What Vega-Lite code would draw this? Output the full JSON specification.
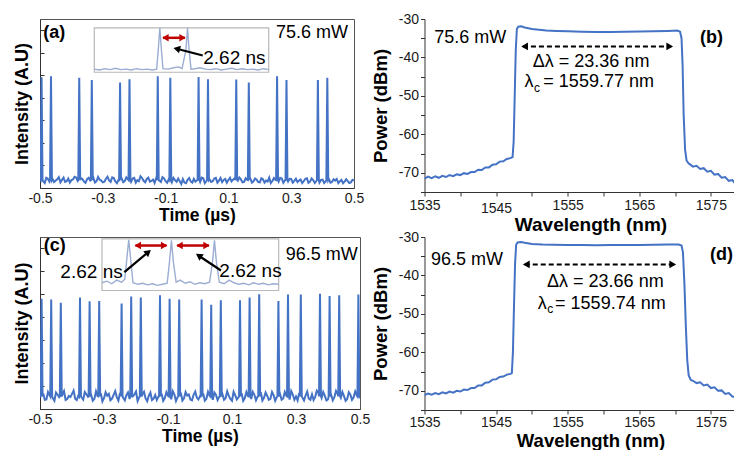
{
"$schema": "https://vega.github.io/schema/vega-lite/v6.json",
"background": "white",
"padding": {"left": 13, "top": 12, "right": 0, "bottom": 0},
"columns": 2,
"bounds": "flush",
"spacing": {"row": 45, "column": 64.5},
"config": {
  "font": "Liberation Sans",
  "view": {"stroke": "#555", "strokeWidth": 1},
  "axis": {"grid": false, "labelFontSize": 14, "labelColor": "#1a1a1a", "titleColor": "#000", "domainColor": "#333", "tickColor": "#333", "titleFontWeight": "bold", "labelOverlap": false, "labelFlush": false},
  "text": {"fontSize": 18, "color": "#000"},
  "line": {"color": "#4472C4"}
},
"datasets": {
  "aTrace": [
    {"x":-0.50,"y":0.38},{"x":-0.49,"y":0.30},{"x":-0.48,"y":0.45},{"x":-0.47,"y":0.28},{"x":-0.46,"y":0.40},{"x":-0.45,"y":0.33},{"x":-0.44,"y":0.48},{"x":-0.43,"y":0.36},{"x":-0.42,"y":0.27},{"x":-0.41,"y":0.42},
    {"x":-0.40,"y":0.35},{"x":-0.39,"y":0.50},{"x":-0.38,"y":0.31},{"x":-0.37,"y":0.44},{"x":-0.36,"y":0.29},{"x":-0.35,"y":0.39},{"x":-0.34,"y":0.33},{"x":-0.33,"y":0.46},{"x":-0.32,"y":0.30},{"x":-0.31,"y":0.37},
    {"x":-0.30,"y":0.25},{"x":-0.29,"y":0.41},{"x":-0.28,"y":0.34},{"x":-0.27,"y":0.47},{"x":-0.26,"y":0.29},{"x":-0.25,"y":0.36},{"x":-0.24,"y":0.43},{"x":-0.23,"y":0.31},{"x":-0.22,"y":0.38},{"x":-0.21,"y":0.27},
    {"x":-0.20,"y":0.45},{"x":-0.19,"y":0.35},{"x":-0.18,"y":0.52},{"x":-0.17,"y":0.32},{"x":-0.16,"y":0.40},{"x":-0.15,"y":0.28},{"x":-0.14,"y":0.37},{"x":-0.13,"y":0.44},{"x":-0.12,"y":0.33},{"x":-0.11,"y":0.48},
    {"x":-0.10,"y":0.30},{"x":-0.09,"y":0.39},{"x":-0.08,"y":0.26},{"x":-0.07,"y":0.35},{"x":-0.06,"y":0.42},{"x":-0.05,"y":0.18},{"x":-0.04,"y":0.24},{"x":-0.03,"y":0.36},{"x":-0.02,"y":0.29},{"x":-0.01,"y":0.41},
    {"x":0.00,"y":0.34},{"x":0.01,"y":0.27},{"x":0.02,"y":0.43},{"x":0.03,"y":0.31},{"x":0.04,"y":0.38},{"x":0.05,"y":0.30},{"x":0.06,"y":0.45},{"x":0.07,"y":0.33},{"x":0.08,"y":0.26},{"x":0.09,"y":0.40},
    {"x":0.10,"y":0.35},{"x":0.11,"y":0.29},{"x":0.12,"y":0.44},{"x":0.13,"y":0.32},{"x":0.14,"y":0.38},{"x":0.15,"y":0.27},{"x":0.16,"y":0.36},{"x":0.17,"y":0.41},{"x":0.18,"y":0.30},{"x":0.19,"y":0.37},
    {"x":0.20,"y":0.25},{"x":0.21,"y":0.39},{"x":0.22,"y":0.33},{"x":0.23,"y":0.46},{"x":0.24,"y":0.31},{"x":0.25,"y":0.36},{"x":0.26,"y":0.28},{"x":0.27,"y":0.42},{"x":0.28,"y":0.34},{"x":0.29,"y":0.29},
    {"x":0.30,"y":0.40},{"x":0.31,"y":0.32},{"x":0.32,"y":0.26},{"x":0.33,"y":0.38},{"x":0.34,"y":0.30},{"x":0.35,"y":0.43},{"x":0.36,"y":0.28},{"x":0.37,"y":0.35},{"x":0.38,"y":0.31},{"x":0.39,"y":0.24},
    {"x":0.40,"y":0.37},{"x":0.41,"y":0.29},{"x":0.42,"y":0.40},{"x":0.43,"y":0.27},{"x":0.44,"y":0.33},{"x":0.45,"y":0.22},{"x":0.46,"y":0.36},{"x":0.47,"y":0.28},{"x":0.48,"y":0.31},{"x":0.49,"y":0.25},{"x":0.50,"y":0.34},
    {"x":-0.485,"y":0.22},{"x":-0.475,"y":0.41},{"x":-0.455,"y":0.26},{"x":-0.445,"y":0.39},{"x":-0.435,"y":0.25},{"x":-0.425,"y":0.46},{"x":-0.415,"y":0.30},{"x":-0.405,"y":0.24},{"x":-0.395,"y":0.38},{"x":-0.385,"y":0.47},
    {"x":-0.365,"y":0.40},{"x":-0.355,"y":0.23},{"x":-0.345,"y":0.45},{"x":-0.325,"y":0.24},{"x":-0.315,"y":0.49},{"x":-0.305,"y":0.33},{"x":-0.295,"y":0.28},{"x":-0.285,"y":0.50},{"x":-0.275,"y":0.27},{"x":-0.265,"y":0.44},
    {"x":-0.255,"y":0.21},{"x":-0.235,"y":0.26},{"x":-0.225,"y":0.47},{"x":-0.205,"y":0.42},{"x":-0.195,"y":0.24},{"x":-0.185,"y":0.30},{"x":-0.175,"y":0.44},{"x":-0.165,"y":0.25},{"x":-0.155,"y":0.46},{"x":-0.145,"y":0.31},
    {"x":-0.135,"y":0.22},{"x":-0.115,"y":0.27},{"x":-0.105,"y":0.43},{"x":-0.095,"y":0.23},{"x":-0.075,"y":0.45},{"x":-0.065,"y":0.28},{"x":-0.055,"y":0.30},{"x":-0.045,"y":0.40},{"x":-0.035,"y":0.21},{"x":-0.025,"y":0.44},
    {"x":-0.015,"y":0.24},{"x":-0.005,"y":0.28},{"x":0.015,"y":0.46},{"x":0.025,"y":0.22},{"x":0.045,"y":0.27},{"x":0.055,"y":0.42},{"x":0.065,"y":0.24},{"x":0.075,"y":0.44},{"x":0.085,"y":0.36},{"x":0.095,"y":0.23},
    {"x":0.105,"y":0.45},{"x":0.115,"y":0.37},{"x":0.135,"y":0.46},{"x":0.145,"y":0.25},{"x":0.155,"y":0.43},{"x":0.175,"y":0.24},{"x":0.185,"y":0.42},{"x":0.195,"y":0.26},{"x":0.205,"y":0.43},{"x":0.215,"y":0.24},
    {"x":0.225,"y":0.29},{"x":0.235,"y":0.22},{"x":0.245,"y":0.44},{"x":0.265,"y":0.45},{"x":0.275,"y":0.23},{"x":0.295,"y":0.41},{"x":0.305,"y":0.24},{"x":0.315,"y":0.41},{"x":0.325,"y":0.33},{"x":0.335,"y":0.22},
    {"x":0.345,"y":0.41},{"x":0.355,"y":0.23},{"x":0.365,"y":0.42},{"x":0.375,"y":0.22},{"x":0.395,"y":0.36},{"x":0.405,"y":0.22},{"x":0.425,"y":0.24},{"x":0.435,"y":0.39},{"x":0.445,"y":0.40},{"x":0.455,"y":0.30},
    {"x":0.465,"y":0.21},{"x":0.475,"y":0.39},{"x":0.485,"y":0.22},{"x":0.495,"y":0.36},
    {"x":-0.498,"y":0.35},{"x":-0.495,"y":4.91},{"x":-0.492,"y":0.35},
    {"x":-0.468,"y":0.35},{"x":-0.465,"y":4.96},{"x":-0.462,"y":0.35},
    {"x":-0.378,"y":0.35},{"x":-0.375,"y":4.89},{"x":-0.372,"y":0.35},
    {"x":-0.338,"y":0.35},{"x":-0.335,"y":4.79},{"x":-0.332,"y":0.35},
    {"x":-0.248,"y":0.35},{"x":-0.245,"y":4.68},{"x":-0.242,"y":0.35},
    {"x":-0.218,"y":0.35},{"x":-0.215,"y":4.83},{"x":-0.212,"y":0.35},
    {"x":-0.128,"y":0.35},{"x":-0.125,"y":4.96},{"x":-0.122,"y":0.35},
    {"x":-0.088,"y":0.35},{"x":-0.085,"y":4.89},{"x":-0.082,"y":0.35},
    {"x":0.002,"y":0.35},{"x":0.005,"y":4.93},{"x":0.008,"y":0.35},
    {"x":0.032,"y":0.35},{"x":0.035,"y":4.83},{"x":0.038,"y":0.35},
    {"x":0.122,"y":0.35},{"x":0.125,"y":4.82},{"x":0.128,"y":0.35},
    {"x":0.162,"y":0.35},{"x":0.165,"y":4.68},{"x":0.168,"y":0.35},
    {"x":0.252,"y":0.35},{"x":0.255,"y":4.96},{"x":0.258,"y":0.35},
    {"x":0.282,"y":0.35},{"x":0.285,"y":4.79},{"x":0.288,"y":0.35},
    {"x":0.382,"y":0.35},{"x":0.385,"y":4.79},{"x":0.388,"y":0.35},
    {"x":0.412,"y":0.35},{"x":0.415,"y":4.89},{"x":0.418,"y":0.35}
  ],
  "cTrace": [
    {"x":-0.50,"y":0.55},{"x":-0.49,"y":0.68},{"x":-0.48,"y":0.42},{"x":-0.47,"y":0.60},{"x":-0.46,"y":0.48},{"x":-0.45,"y":0.72},{"x":-0.44,"y":0.51},{"x":-0.43,"y":0.63},{"x":-0.42,"y":0.40},{"x":-0.41,"y":0.57},
    {"x":-0.40,"y":0.66},{"x":-0.39,"y":0.45},{"x":-0.38,"y":0.59},{"x":-0.37,"y":0.50},{"x":-0.36,"y":0.74},{"x":-0.35,"y":0.53},{"x":-0.34,"y":0.61},{"x":-0.33,"y":0.44},{"x":-0.32,"y":0.56},{"x":-0.31,"y":0.69},
    {"x":-0.30,"y":0.47},{"x":-0.29,"y":0.58},{"x":-0.28,"y":0.38},{"x":-0.27,"y":0.62},{"x":-0.26,"y":0.52},{"x":-0.25,"y":0.70},{"x":-0.24,"y":0.49},{"x":-0.23,"y":0.60},{"x":-0.22,"y":0.43},{"x":-0.21,"y":0.55},
    {"x":-0.20,"y":0.76},{"x":-0.19,"y":0.51},{"x":-0.18,"y":0.64},{"x":-0.17,"y":0.46},{"x":-0.16,"y":0.58},{"x":-0.15,"y":0.39},{"x":-0.14,"y":0.61},{"x":-0.13,"y":0.54},{"x":-0.12,"y":0.67},{"x":-0.11,"y":0.48},
    {"x":-0.10,"y":0.57},{"x":-0.09,"y":0.42},{"x":-0.08,"y":0.63},{"x":-0.07,"y":0.52},{"x":-0.06,"y":0.71},{"x":-0.05,"y":0.47},{"x":-0.04,"y":0.59},{"x":-0.03,"y":0.41},{"x":-0.02,"y":0.62},{"x":-0.01,"y":0.50},
    {"x":0.00,"y":0.56},{"x":0.01,"y":0.68},{"x":0.02,"y":0.45},{"x":0.03,"y":0.58},{"x":0.04,"y":0.40},{"x":0.05,"y":0.61},{"x":0.06,"y":0.53},{"x":0.07,"y":0.66},{"x":0.08,"y":0.47},{"x":0.09,"y":0.57},
    {"x":0.10,"y":0.36},{"x":0.11,"y":0.60},{"x":0.12,"y":0.51},{"x":0.13,"y":0.69},{"x":0.14,"y":0.48},{"x":0.15,"y":0.56},{"x":0.16,"y":0.43},{"x":0.17,"y":0.62},{"x":0.18,"y":0.54},{"x":0.19,"y":0.73},
    {"x":0.20,"y":0.49},{"x":0.21,"y":0.58},{"x":0.22,"y":0.44},{"x":0.23,"y":0.60},{"x":0.24,"y":0.52},{"x":0.25,"y":0.66},{"x":0.26,"y":0.46},{"x":0.27,"y":0.57},{"x":0.28,"y":0.41},{"x":0.29,"y":0.63},
    {"x":0.30,"y":0.55},{"x":0.31,"y":0.70},{"x":0.32,"y":0.50},{"x":0.33,"y":0.59},{"x":0.34,"y":0.45},{"x":0.35,"y":0.64},{"x":0.36,"y":0.53},{"x":0.37,"y":0.71},{"x":0.38,"y":0.48},{"x":0.39,"y":0.58},
    {"x":0.40,"y":0.42},{"x":0.41,"y":0.61},{"x":0.42,"y":0.52},{"x":0.43,"y":0.67},{"x":0.44,"y":0.49},{"x":0.45,"y":0.56},{"x":0.46,"y":0.44},{"x":0.47,"y":0.62},{"x":0.48,"y":0.51},{"x":0.49,"y":0.59},{"x":0.50,"y":0.47},
    {"x":-0.485,"y":0.40},{"x":-0.475,"y":0.74},{"x":-0.455,"y":0.36},{"x":-0.445,"y":0.62},{"x":-0.425,"y":0.78},{"x":-0.415,"y":0.44},{"x":-0.405,"y":0.52},{"x":-0.395,"y":0.80},{"x":-0.385,"y":0.39},{"x":-0.365,"y":0.41},
    {"x":-0.355,"y":0.64},{"x":-0.335,"y":0.36},{"x":-0.325,"y":0.77},{"x":-0.305,"y":0.33},{"x":-0.295,"y":0.73},{"x":-0.285,"y":0.66},{"x":-0.275,"y":0.45},{"x":-0.265,"y":0.78},{"x":-0.255,"y":0.37},{"x":-0.235,"y":0.38},
    {"x":-0.225,"y":0.72},{"x":-0.205,"y":0.63},{"x":-0.195,"y":0.35},{"x":-0.175,"y":0.75},{"x":-0.165,"y":0.34},{"x":-0.155,"y":0.72},{"x":-0.145,"y":0.45},{"x":-0.135,"y":0.39},{"x":-0.115,"y":0.36},{"x":-0.105,"y":0.73},
    {"x":-0.085,"y":0.78},{"x":-0.075,"y":0.35},{"x":-0.055,"y":0.37},{"x":-0.045,"y":0.74},{"x":-0.035,"y":0.63},{"x":-0.025,"y":0.38},{"x":-0.015,"y":0.76},{"x":-0.005,"y":0.42},{"x":0.015,"y":0.37},{"x":0.025,"y":0.75},
    {"x":0.045,"y":0.72},{"x":0.055,"y":0.39},{"x":0.075,"y":0.40},{"x":0.085,"y":0.77},{"x":0.095,"y":0.44},{"x":0.105,"y":0.75},{"x":0.115,"y":0.42},{"x":0.135,"y":0.36},{"x":0.145,"y":0.74},{"x":0.165,"y":0.75},
    {"x":0.175,"y":0.38},{"x":0.195,"y":0.37},{"x":0.205,"y":0.72},{"x":0.215,"y":0.40},{"x":0.225,"y":0.74},{"x":0.235,"y":0.36},{"x":0.255,"y":0.40},{"x":0.265,"y":0.74},{"x":0.285,"y":0.78},{"x":0.295,"y":0.40},
    {"x":0.305,"y":0.38},{"x":0.325,"y":0.37},{"x":0.335,"y":0.76},{"x":0.345,"y":0.40},{"x":0.355,"y":0.39},{"x":0.365,"y":0.80},{"x":0.385,"y":0.74},{"x":0.395,"y":0.37},{"x":0.415,"y":0.38},{"x":0.425,"y":0.79},
    {"x":0.445,"y":0.74},{"x":0.455,"y":0.36},{"x":0.465,"y":0.73},{"x":0.475,"y":0.40},{"x":0.485,"y":0.77},
    {"x":-0.498,"y":0.55},{"x":-0.495,"y":4.81},{"x":-0.492,"y":0.55},
    {"x":-0.468,"y":0.55},{"x":-0.465,"y":4.77},{"x":-0.462,"y":0.55},
    {"x":-0.438,"y":0.55},{"x":-0.435,"y":4.63},{"x":-0.432,"y":0.55},
    {"x":-0.378,"y":0.55},{"x":-0.375,"y":4.86},{"x":-0.372,"y":0.55},
    {"x":-0.348,"y":0.55},{"x":-0.345,"y":4.70},{"x":-0.342,"y":0.55},
    {"x":-0.318,"y":0.55},{"x":-0.315,"y":4.71},{"x":-0.312,"y":0.55},
    {"x":-0.248,"y":0.55},{"x":-0.245,"y":4.60},{"x":-0.242,"y":0.55},
    {"x":-0.218,"y":0.55},{"x":-0.215,"y":4.91},{"x":-0.212,"y":0.55},
    {"x":-0.188,"y":0.55},{"x":-0.185,"y":4.86},{"x":-0.182,"y":0.55},
    {"x":-0.128,"y":0.55},{"x":-0.125,"y":4.96},{"x":-0.122,"y":0.55},
    {"x":-0.098,"y":0.55},{"x":-0.095,"y":4.81},{"x":-0.092,"y":0.55},
    {"x":-0.068,"y":0.55},{"x":-0.065,"y":4.77},{"x":-0.062,"y":0.55},
    {"x":0.002,"y":0.55},{"x":0.005,"y":4.77},{"x":0.008,"y":0.55},
    {"x":0.032,"y":0.55},{"x":0.035,"y":4.55},{"x":0.038,"y":0.55},
    {"x":0.062,"y":0.55},{"x":0.065,"y":4.74},{"x":0.068,"y":0.55},
    {"x":0.122,"y":0.55},{"x":0.125,"y":4.74},{"x":0.128,"y":0.55},
    {"x":0.152,"y":0.55},{"x":0.155,"y":4.86},{"x":0.158,"y":0.55},
    {"x":0.182,"y":0.55},{"x":0.185,"y":5.00},{"x":0.188,"y":0.55},
    {"x":0.242,"y":0.55},{"x":0.245,"y":4.71},{"x":0.248,"y":0.55},
    {"x":0.272,"y":0.55},{"x":0.275,"y":4.99},{"x":0.278,"y":0.55},
    {"x":0.312,"y":0.55},{"x":0.315,"y":4.99},{"x":0.318,"y":0.55},
    {"x":0.372,"y":0.55},{"x":0.375,"y":5.03},{"x":0.378,"y":0.55},
    {"x":0.402,"y":0.55},{"x":0.405,"y":4.93},{"x":0.408,"y":0.55},
    {"x":0.432,"y":0.55},{"x":0.435,"y":4.96},{"x":0.438,"y":0.55},
    {"x":0.492,"y":0.55},{"x":0.495,"y":4.99},{"x":0.498,"y":0.55}
  ],
  "aInset": [
    {"x":0,"y":0.07},{"x":0.5,"y":0.05},{"x":1,"y":0.08},{"x":1.5,"y":0.06},{"x":2,"y":0.09},{"x":2.5,"y":0.06},{"x":3,"y":0.07},{"x":3.5,"y":0.05},{"x":4,"y":0.08},{"x":4.5,"y":0.06},
    {"x":5,"y":0.07},{"x":5.5,"y":0.05},{"x":5.9,"y":0.07},{"x":6.05,"y":0.5},{"x":6.2,"y":1.0},{"x":6.35,"y":0.5},{"x":6.5,"y":0.08},{"x":7,"y":0.07},{"x":7.5,"y":0.10},{"x":8,"y":0.12},
    {"x":8.3,"y":0.08},{"x":8.67,"y":0.5},{"x":8.82,"y":1.0},{"x":8.97,"y":0.5},{"x":9.15,"y":0.07},{"x":9.5,"y":0.08},{"x":10,"y":0.10},{"x":10.5,"y":0.07},{"x":11,"y":0.06},{"x":11.5,"y":0.08},
    {"x":12,"y":0.05},{"x":12.5,"y":0.07},{"x":13,"y":0.09},{"x":13.5,"y":0.06},{"x":14,"y":0.08},{"x":14.5,"y":0.06},{"x":15,"y":0.07},{"x":15.5,"y":0.05},{"x":16,"y":0.08},{"x":16.5,"y":0.06}
  ],
  "cInset": [
    {"x":0,"y":0.15},{"x":0.3,"y":0.18},{"x":0.6,"y":0.13},{"x":0.9,"y":0.2},{"x":1.2,"y":0.16},{"x":1.4,"y":0.22},{"x":1.52,"y":0.6},{"x":1.64,"y":0.98},{"x":1.76,"y":0.6},{"x":1.9,"y":0.15},
    {"x":2.2,"y":0.12},{"x":2.5,"y":0.14},{"x":2.8,"y":0.11},{"x":3.1,"y":0.13},{"x":3.4,"y":0.1},{"x":3.7,"y":0.12},{"x":4.0,"y":0.14},{"x":4.14,"y":0.55},{"x":4.26,"y":0.97},{"x":4.38,"y":0.55},
    {"x":4.55,"y":0.16},{"x":4.8,"y":0.2},{"x":5.1,"y":0.14},{"x":5.4,"y":0.17},{"x":5.7,"y":0.12},{"x":6.0,"y":0.15},{"x":6.3,"y":0.13},{"x":6.6,"y":0.16},{"x":6.78,"y":0.55},{"x":6.9,"y":0.97},
    {"x":7.02,"y":0.55},{"x":7.2,"y":0.16},{"x":7.5,"y":0.13},{"x":7.8,"y":0.2},{"x":8.1,"y":0.15},{"x":8.4,"y":0.12},{"x":8.7,"y":0.14},{"x":9.0,"y":0.11},{"x":9.3,"y":0.15},{"x":9.6,"y":0.12},
    {"x":9.9,"y":0.14},{"x":10.2,"y":0.11},{"x":10.5,"y":0.13},{"x":10.84,"y":0.12}
  ],
  "bSpec": [
    {"x":1535.0,"y":-71.5},{"x":1535.5,"y":-71.0},{"x":1536.0,"y":-71.4},{"x":1536.5,"y":-70.9},{"x":1537.0,"y":-71.3},{"x":1537.5,"y":-70.8},{"x":1538.0,"y":-71.1},{"x":1538.5,"y":-70.6},{"x":1539.0,"y":-70.9},{"x":1539.5,"y":-70.4},
    {"x":1540.0,"y":-70.6},{"x":1540.5,"y":-70.1},{"x":1541.0,"y":-70.3},{"x":1541.5,"y":-69.8},{"x":1542.0,"y":-69.8},{"x":1542.5,"y":-69.2},{"x":1543.0,"y":-69.3},{"x":1543.5,"y":-68.6},{"x":1544.0,"y":-68.6},{"x":1544.5,"y":-67.9},
    {"x":1545.0,"y":-67.8},{"x":1545.5,"y":-67.1},{"x":1546.0,"y":-67.0},{"x":1546.5,"y":-66.4},{"x":1547.0,"y":-66.2},{"x":1547.3,"y":-65.9},
    {"x":1547.45,"y":-62},{"x":1547.6,"y":-50},{"x":1547.75,"y":-38},{"x":1547.9,"y":-32.6},{"x":1548.1,"y":-32.0},{"x":1548.5,"y":-31.9},{"x":1549.0,"y":-32.2},{"x":1550.0,"y":-32.6},{"x":1551.0,"y":-32.8},{"x":1552.0,"y":-33.0},
    {"x":1553.5,"y":-33.1},{"x":1555,"y":-33.2},{"x":1557,"y":-33.3},{"x":1559,"y":-33.35},{"x":1561,"y":-33.35},{"x":1563,"y":-33.3},{"x":1565,"y":-33.25},{"x":1567,"y":-33.2},{"x":1569,"y":-33.1},{"x":1570.3,"y":-33.0},
    {"x":1570.7,"y":-33.3},{"x":1570.9,"y":-35},{"x":1571.05,"y":-42},{"x":1571.2,"y":-55},{"x":1571.4,"y":-64},{"x":1571.6,"y":-66.8},{"x":1571.9,"y":-67.6},
    {"x":1572.0,"y":-67.7},{"x":1572.5,"y":-68.4},{"x":1573.0,"y":-68.2},{"x":1573.5,"y":-69.0},{"x":1574.0,"y":-68.8},{"x":1574.5,"y":-69.7},{"x":1575.0,"y":-69.5},{"x":1575.5,"y":-70.5},{"x":1576.0,"y":-70.3},{"x":1576.5,"y":-71.3},
    {"x":1577.0,"y":-71.1},{"x":1577.5,"y":-72.1},{"x":1578.0,"y":-71.9},{"x":1578.3,"y":-72.6}
  ],
  "dSpec": [
    {"x":1535.0,"y":-71.1},{"x":1535.5,"y":-70.7},{"x":1536.0,"y":-71.0},{"x":1536.5,"y":-70.6},{"x":1537.0,"y":-70.9},{"x":1537.5,"y":-70.4},{"x":1538.0,"y":-70.7},{"x":1538.5,"y":-70.2},{"x":1539.0,"y":-70.5},{"x":1539.5,"y":-70.0},
    {"x":1540.0,"y":-70.2},{"x":1540.5,"y":-69.7},{"x":1541.0,"y":-69.8},{"x":1541.5,"y":-69.3},{"x":1542.0,"y":-69.3},{"x":1542.5,"y":-68.6},{"x":1543.0,"y":-68.6},{"x":1543.5,"y":-67.9},{"x":1544.0,"y":-67.8},{"x":1544.5,"y":-67.1},
    {"x":1545.0,"y":-67.0},{"x":1545.5,"y":-66.4},{"x":1546.0,"y":-66.3},{"x":1546.5,"y":-65.8},{"x":1547.0,"y":-65.6},{"x":1547.2,"y":-65.4},
    {"x":1547.35,"y":-60},{"x":1547.5,"y":-48},{"x":1547.65,"y":-37},{"x":1547.8,"y":-32},{"x":1548.0,"y":-31.4},{"x":1548.5,"y":-31.3},{"x":1549.0,"y":-31.5},{"x":1550.0,"y":-31.8},{"x":1551.5,"y":-31.95},{"x":1553,"y":-32.0},
    {"x":1555,"y":-32.05},{"x":1557,"y":-32.1},{"x":1559,"y":-32.15},{"x":1561,"y":-32.1},{"x":1563,"y":-32.1},{"x":1565,"y":-32.05},{"x":1567,"y":-32.0},{"x":1569,"y":-31.95},{"x":1570.5,"y":-31.95},{"x":1570.9,"y":-32.2},
    {"x":1571.1,"y":-34},{"x":1571.3,"y":-42},{"x":1571.5,"y":-53},{"x":1571.7,"y":-62},{"x":1571.9,"y":-66},{"x":1572.2,"y":-67.2},
    {"x":1572.5,"y":-67.4},{"x":1573.0,"y":-68.0},{"x":1573.5,"y":-67.8},{"x":1574.0,"y":-68.6},{"x":1574.5,"y":-68.4},{"x":1575.0,"y":-69.3},{"x":1575.5,"y":-69.1},{"x":1576.0,"y":-70.0},{"x":1576.5,"y":-69.9},{"x":1577.0,"y":-70.8},
    {"x":1577.5,"y":-70.6},{"x":1578.0,"y":-71.5},{"x":1578.3,"y":-71.6}
  ]
},
"concat": [
  {
    "width": 314, "height": 169,
    "resolve": {"scale": {"x": "independent", "y": "independent"}},
    "layer": [
      {
        "encoding": {
          "x": {"field": "x", "type": "quantitative", "scale": {"domain": [-0.5, 0.5], "nice": false, "zero": false},
                "axis": {"title": "Time (µs)", "values": [-0.5,-0.3,-0.1,0.1,0.3,0.5], "labelExpr": "datum.value < 0 ? '-' + format(-datum.value, '.1f') : format(datum.value, '.1f')", "ticks": false, "labelPadding": 3, "titleFontSize": 17.5, "titlePadding": 1.5}},
          "y": {"field": "y", "type": "quantitative", "scale": {"domain": [0, 7.5], "nice": false, "zero": false},
                "axis": {"title": "Intensity (A.U)", "values": [0,1,2,3,4,5,6,7], "labels": false, "tickSize": -4, "titleFontSize": 18, "titlePadding": 8}}
        },
        "layer": [
          {"data": {"name": "aTrace"}, "mark": {"type": "line", "strokeWidth": 2, "clip": true}},
          {"data": {"values": [{"x": -0.49, "y": 6.86, "label": "(a)"}]}, "mark": {"type": "text", "align": "left", "baseline": "middle", "fontWeight": "bold", "fontSize": 18}, "encoding": {"text": {"field": "label"}}},
          {"data": {"values": [{"x": 0.481, "y": 6.86, "label": "75.6 mW"}]}, "mark": {"type": "text", "align": "right", "baseline": "middle", "fontSize": 18}, "encoding": {"text": {"field": "label"}}}
        ]
      },
      {
        "encoding": {
          "x": {"field": "x", "type": "quantitative", "scale": {"domain": [-5.137, 24.57], "nice": false, "zero": false}, "axis": null},
          "y": {"field": "y", "type": "quantitative", "scale": {"domain": [-2.604, 1.198], "nice": false, "zero": false}, "axis": null}
        },
        "layer": [
          {"data": {"values": [{"x": 0, "x2": 16.5, "y": 0, "y2": 1}]}, "mark": {"type": "rect", "fill": "white", "stroke": "#b8b8b8", "strokeWidth": 1.2}, "encoding": {"x2": {"field": "x2"}, "y2": {"field": "y2"}}},
          {"data": {"name": "aInset"}, "mark": {"type": "line", "color": "#9badd2", "strokeWidth": 1.4}},
          {"data": {"values": [{"x": 6.5, "y": 0.775}, {"x": 8.58, "y": 0.775}]}, "mark": {"type": "line", "color": "#c00000", "strokeWidth": 2.5}},
          {"data": {"values": [{"x": 6.73, "y": 0.775}]}, "mark": {"type": "point", "shape": "triangle-left", "filled": true, "color": "#c00000", "size": 55, "opacity": 1}},
          {"data": {"values": [{"x": 8.35, "y": 0.775}]}, "mark": {"type": "point", "shape": "triangle-right", "filled": true, "color": "#c00000", "size": 55, "opacity": 1}},
          {"data": {"values": [{"x": 10.26, "y": 0.376}, {"x": 7.8, "y": 0.529}]}, "mark": {"type": "line", "color": "#000", "strokeWidth": 2.2}},
          {"data": {"values": [{"x": 7.8, "y": 0.529}]}, "mark": {"type": "point", "shape": "triangle-up", "angle": 284.7, "filled": true, "color": "#000", "size": 60, "opacity": 1}},
          {"data": {"values": [{"x": 10.31, "y": 0.324, "label": "2.62 ns"}]}, "mark": {"type": "text", "align": "left", "baseline": "middle", "fontSize": 19}, "encoding": {"text": {"field": "label"}}}
        ]
      }
    ]
  },
  {
    "width": 310, "height": 173,
    "view": {"stroke": null},
    "encoding": {
      "x": {"field": "x", "type": "quantitative", "scale": {"domain": [1535, 1578.3], "nice": false, "zero": false},
            "axis": {"title": "Wavelength (nm)", "values": [1535,1540,1545,1550,1555,1560,1565,1570,1575], "labelExpr": "datum.value % 10 == 5 ? format(datum.value, 'd') : ''", "tickSize": 4, "labelPadding": {"condition": {"test": "datum.value == 1545", "value": 5}, "value": 2}, "titleFontSize": 19, "titlePadding": 0, "titleX": 166}},
      "y": {"field": "y", "type": "quantitative", "scale": {"domain": [-75, -30], "nice": false, "zero": false},
            "axis": {"title": "Power (dBm)", "values": [-75,-70,-65,-60,-55,-50,-45,-40,-35,-30], "labelExpr": "datum.value % 10 == 0 ? '-' + format(-datum.value, 'd') : ''", "tickSize": 4, "labelPadding": 2, "titleFontSize": 18.5, "titlePadding": 8}}
    },
    "layer": [
      {"data": {"name": "bSpec"}, "mark": {"type": "line", "strokeWidth": 2, "clip": true}},
      {"data": {"values": [{"x": 1548.75, "y": -37.15}, {"x": 1569.45, "y": -37.15}]}, "mark": {"type": "line", "color": "#000", "strokeWidth": 2, "strokeDash": [5, 3]}},
      {"data": {"values": [{"x": 1548.98, "y": -37.15}]}, "mark": {"type": "point", "shape": "triangle-left", "filled": true, "color": "#000", "size": 60, "opacity": 1}},
      {"data": {"values": [{"x": 1569.25, "y": -37.15}]}, "mark": {"type": "point", "shape": "triangle-right", "filled": true, "color": "#000", "size": 60, "opacity": 1}},
      {"data": {"values": [{"x": 1536.37, "y": -34.9, "label": "75.6 mW"}]}, "mark": {"type": "text", "align": "left", "baseline": "middle", "fontSize": 18}, "encoding": {"text": {"field": "label"}}},
      {"data": {"values": [{"x": 1576.68, "y": -34.9, "label": "(b)"}]}, "mark": {"type": "text", "align": "right", "baseline": "middle", "fontSize": 18, "fontWeight": "bold"}, "encoding": {"text": {"field": "label"}}},
      {"data": {"values": [{"x": 1558.27, "y": -41.3, "label": "Δλ = 23.36 nm"}]}, "mark": {"type": "text", "align": "center", "baseline": "middle", "fontSize": 18}, "encoding": {"text": {"field": "label"}}},
      {"data": {"values": [{"x": 1550.24, "y": -46.5, "label": "λ"}]}, "mark": {"type": "text", "align": "right", "baseline": "middle", "fontSize": 18}, "encoding": {"text": {"field": "label"}}},
      {"data": {"values": [{"x": 1550.31, "y": -47.9, "label": "c"}]}, "mark": {"type": "text", "align": "left", "baseline": "middle", "fontSize": 12}, "encoding": {"text": {"field": "label"}}},
      {"data": {"values": [{"x": 1551.6, "y": -46.5, "label": "= 1559.77 nm"}]}, "mark": {"type": "text", "align": "left", "baseline": "middle", "fontSize": 18}, "encoding": {"text": {"field": "label"}}}
    ]
  },
  {
    "width": 320, "height": 172,
    "resolve": {"scale": {"x": "independent", "y": "independent"}},
    "layer": [
      {
        "encoding": {
          "x": {"field": "x", "type": "quantitative", "scale": {"domain": [-0.5, 0.5], "nice": false, "zero": false},
                "axis": {"title": "Time (µs)", "values": [-0.5,-0.3,-0.1,0.1,0.3,0.5], "labelExpr": "datum.value < 0 ? '-' + format(-datum.value, '.1f') : format(datum.value, '.1f')", "ticks": false, "labelPadding": 3, "titleFontSize": 17.5, "titlePadding": 1.5}},
          "y": {"field": "y", "type": "quantitative", "scale": {"domain": [0, 7.5], "nice": false, "zero": false},
                "axis": {"title": "Intensity (A.U)", "values": [0,1,2,3,4,5,6,7], "labels": false, "tickSize": -4, "titleFontSize": 18, "titlePadding": 8}}
        },
        "layer": [
          {"data": {"name": "cTrace"}, "mark": {"type": "line", "strokeWidth": 2, "clip": true}},
          {"data": {"values": [{"x": -0.488, "y": 7.1, "label": "(c)"}]}, "mark": {"type": "text", "align": "left", "baseline": "middle", "fontWeight": "bold", "fontSize": 18}, "encoding": {"text": {"field": "label"}}},
          {"data": {"values": [{"x": 0.493, "y": 6.71, "label": "96.5 mW"}]}, "mark": {"type": "text", "align": "right", "baseline": "middle", "fontSize": 18}, "encoding": {"text": {"field": "label"}}}
        ]
      },
      {
        "encoding": {
          "x": {"field": "x", "type": "quantitative", "scale": {"domain": [-3.804, 15.83], "nice": false, "zero": false}, "axis": null},
          "y": {"field": "y", "type": "quantitative", "scale": {"domain": [-2.292, 1.035], "nice": false, "zero": false}, "axis": null}
        },
        "layer": [
          {"data": {"values": [{"x": 0, "x2": 10.84, "y": 0, "y2": 1}]}, "mark": {"type": "rect", "fill": "white", "stroke": "#b8b8b8", "strokeWidth": 1.2}, "encoding": {"x2": {"field": "x2"}, "y2": {"field": "y2"}}},
          {"data": {"name": "cInset"}, "mark": {"type": "line", "color": "#9badd2", "strokeWidth": 1.4}},
          {"data": {"values": [{"g": 1, "x": 2.05, "y": 0.87}, {"g": 1, "x": 3.96, "y": 0.87}, {"g": 2, "x": 4.61, "y": 0.87}, {"g": 2, "x": 6.56, "y": 0.87}]}, "mark": {"type": "line", "color": "#c00000", "strokeWidth": 2.5}, "encoding": {"detail": {"field": "g"}}},
          {"data": {"values": [{"x": 2.195, "y": 0.87}, {"x": 4.755, "y": 0.87}]}, "mark": {"type": "point", "shape": "triangle-left", "filled": true, "color": "#c00000", "size": 55, "opacity": 1}},
          {"data": {"values": [{"x": 3.815, "y": 0.87}, {"x": 6.415, "y": 0.87}]}, "mark": {"type": "point", "shape": "triangle-right", "filled": true, "color": "#c00000", "size": 55, "opacity": 1}},
          {"data": {"values": [{"g": 1, "x": 1.37, "y": 0.354}, {"g": 1, "x": 2.84, "y": 0.744}, {"g": 2, "x": 7.3, "y": 0.387}, {"g": 2, "x": 5.94, "y": 0.673}]}, "mark": {"type": "line", "color": "#000", "strokeWidth": 2.2}, "encoding": {"detail": {"field": "g"}}},
          {"data": {"values": [{"x": 2.84, "y": 0.744}]}, "mark": {"type": "point", "shape": "triangle-up", "angle": 50, "filled": true, "color": "#000", "size": 60, "opacity": 1}},
          {"data": {"values": [{"x": 5.94, "y": 0.673}]}, "mark": {"type": "point", "shape": "triangle-up", "angle": 303.7, "filled": true, "color": "#000", "size": 60, "opacity": 1}},
          {"data": {"values": [{"x": 1.27, "y": 0.354, "label": "2.62 ns"}]}, "mark": {"type": "text", "align": "right", "baseline": "middle", "fontSize": 19}, "encoding": {"text": {"field": "label"}}},
          {"data": {"values": [{"x": 7.2, "y": 0.387, "label": "2.62 ns"}]}, "mark": {"type": "text", "align": "left", "baseline": "middle", "fontSize": 19}, "encoding": {"text": {"field": "label"}}}
        ]
      }
    ]
  },
  {
    "width": 310, "height": 173,
    "view": {"stroke": null},
    "encoding": {
      "x": {"field": "x", "type": "quantitative", "scale": {"domain": [1535, 1578.3], "nice": false, "zero": false},
            "axis": {"title": "Wavelength (nm)", "values": [1535,1540,1545,1550,1555,1560,1565,1570,1575], "labelExpr": "datum.value % 10 == 5 ? format(datum.value, 'd') : ''", "tickSize": 4, "labelPadding": 1, "titleFontSize": 18.5, "titlePadding": 2, "titleX": 166}},
      "y": {"field": "y", "type": "quantitative", "scale": {"domain": [-75, -30], "nice": false, "zero": false},
            "axis": {"title": "Power (dBm)", "values": [-75,-70,-65,-60,-55,-50,-45,-40,-35,-30], "labelExpr": "datum.value % 10 == 0 ? '-' + format(-datum.value, 'd') : ''", "tickSize": 4, "labelPadding": 2, "titleFontSize": 18.5, "titlePadding": 8}}
    },
    "layer": [
      {"data": {"name": "dSpec"}, "mark": {"type": "line", "strokeWidth": 2, "clip": true}},
      {"data": {"values": [{"x": 1549.0, "y": -37.15}, {"x": 1569.9, "y": -37.15}]}, "mark": {"type": "line", "color": "#000", "strokeWidth": 2, "strokeDash": [5, 3]}},
      {"data": {"values": [{"x": 1549.22, "y": -37.15}]}, "mark": {"type": "point", "shape": "triangle-left", "filled": true, "color": "#000", "size": 60, "opacity": 1}},
      {"data": {"values": [{"x": 1569.67, "y": -37.15}]}, "mark": {"type": "point", "shape": "triangle-right", "filled": true, "color": "#000", "size": 60, "opacity": 1}},
      {"data": {"values": [{"x": 1535.91, "y": -36.04, "label": "96.5 mW"}]}, "mark": {"type": "text", "align": "left", "baseline": "middle", "fontSize": 18}, "encoding": {"text": {"field": "label"}}},
      {"data": {"values": [{"x": 1578.08, "y": -34.73, "label": "(d)"}]}, "mark": {"type": "text", "align": "right", "baseline": "middle", "fontSize": 18, "fontWeight": "bold"}, "encoding": {"text": {"field": "label"}}},
      {"data": {"values": [{"x": 1560.26, "y": -41.65, "label": "Δλ = 23.66 nm"}]}, "mark": {"type": "text", "align": "center", "baseline": "middle", "fontSize": 18}, "encoding": {"text": {"field": "label"}}},
      {"data": {"values": [{"x": 1552.08, "y": -47.3, "label": "λ"}]}, "mark": {"type": "text", "align": "right", "baseline": "middle", "fontSize": 18}, "encoding": {"text": {"field": "label"}}},
      {"data": {"values": [{"x": 1552.15, "y": -48.7, "label": "c"}]}, "mark": {"type": "text", "align": "left", "baseline": "middle", "fontSize": 12}, "encoding": {"text": {"field": "label"}}},
      {"data": {"values": [{"x": 1553.24, "y": -47.3, "label": "= 1559.74 nm"}]}, "mark": {"type": "text", "align": "left", "baseline": "middle", "fontSize": 18}, "encoding": {"text": {"field": "label"}}}
    ]
  }
]
}
